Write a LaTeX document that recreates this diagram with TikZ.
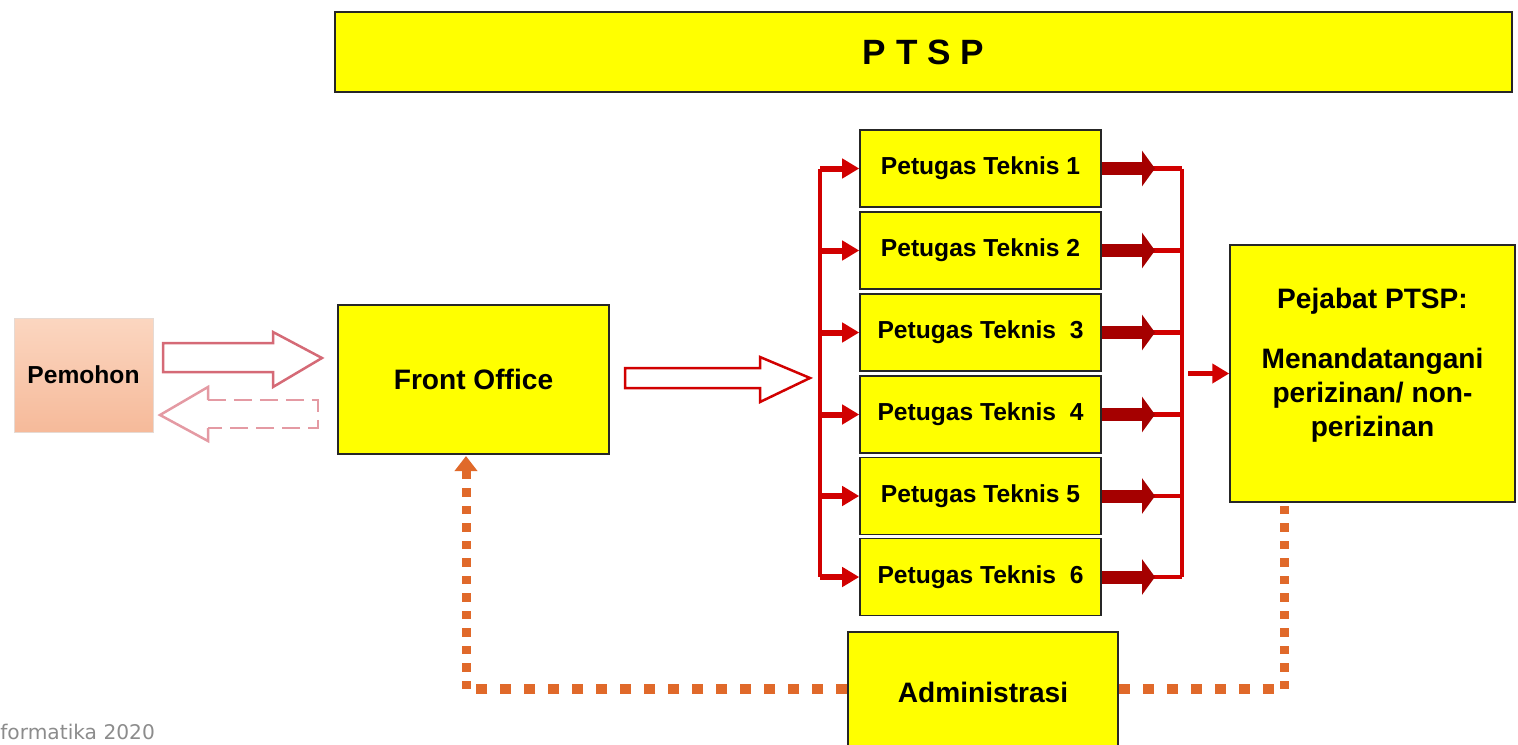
\documentclass[tikz,border=0pt]{standalone}
\usepackage{fontspec}
\setmainfont{Liberation Sans}
\newfontfamily\footfont{DejaVu Sans}
\usetikzlibrary{arrows.meta}

\definecolor{boxyellow}{HTML}{FFFF00}
\definecolor{branchred}{HTML}{D10000}
\definecolor{darkred}{HTML}{A50000}
\definecolor{dotorange}{HTML}{E0692A}
\definecolor{pinkline}{HTML}{D56A76}
\definecolor{pinkdash}{HTML}{E49AA3}
\definecolor{peachtop}{HTML}{FBD6C0}
\definecolor{peachbot}{HTML}{F6BA9A}

\tikzset{
  yellowbox/.style={draw=black!85, line width=0.9pt, fill=boxyellow, inner sep=0pt,
    font=\bfseries\fontsize{16}{19.4}\selectfont},
  tekbox/.style={yellowbox, minimum width=4.82cm, minimum height=1.54cm,
    font=\bfseries\fontsize{14}{16}\selectfont},
  branch/.style={draw=branchred, line width=0.12cm, -{Triangle[length=0.34cm,width=0.38cm]}},
  thickarr/.style={draw=darkred, line width=0.26cm, -{Triangle[length=0.26cm,width=0.7cm]},
    shorten >=0.54cm},
  busline/.style={draw=branchred, line width=0.09cm},
  dotline/.style={draw=dotorange, line width=0.19cm, dash pattern=on 0.22cm off 0.26cm},
  dotvert/.style={draw=dotorange, line width=0.18cm, dash pattern=on 0.17cm off 0.18cm},
}

\begin{document}
\begin{tikzpicture}[x=0.02cm, y=-0.02cm]
    \useasboundingbox (0,0) rectangle (1518,744);

    % banner and boxes
    \node[yellowbox, minimum width=23.54cm, minimum height=1.6cm,
      font=\bfseries\fontsize{20}{24}\selectfont] (ptsp) at (923.5,52) {P T S P};
    \node[draw=peachbot!70!black!30, line width=0.4pt, top color=peachtop, bottom color=peachbot,
      minimum width=2.78cm, minimum height=2.28cm, inner sep=0pt,
      font=\bfseries\fontsize{14}{16}\selectfont] (pem) at (83.5,375) {Pemohon};
    \node[yellowbox, minimum width=5.42cm, minimum height=2.98cm] (fo) at (473.5,379.5) {Front Office};

    \node[tekbox] (t1) at (980.5,168.5) {Petugas Teknis 1};
    \node[tekbox] (t2) at (980.5,250.5) {Petugas Teknis 2};
    \node[tekbox] (t3) at (980.5,332.5) {Petugas Teknis\ \ 3};
    \node[tekbox] (t4) at (980.5,414.5) {Petugas Teknis\ \ 4};
    \node[tekbox] (t5) at (980.5,496) {Petugas Teknis 5};
    \node[tekbox] (t6) at (980.5,577) {Petugas Teknis\ \ 6};

    \node[yellowbox, minimum width=5.7cm, minimum height=5.14cm] (pj) at (1372.5,373.5) {};
    \node[align=center, font=\bfseries\fontsize{16}{19.4}\selectfont] (pjtext) at (1372.5,365)
      {Pejabat PTSP:\\[0.52cm]Menandatangani\\perizinan/ non-\\perizinan};
    \node[yellowbox, minimum width=5.4cm, minimum height=2.4cm] (adm) at (983,692) {Administrasi};

    \node[anchor=base west, inner sep=0pt, text=black!45, font=\footfont\fontsize{11.5}{13}\selectfont]
      (foot) at (0,739) {formatika 2020};

    % block arrows Pemohon <-> Front Office
    \draw[draw=pinkline, line width=0.05cm, fill=white]
      (163,343) -- (273,343) -- (273,332) -- (322,358) -- (273,387) -- (273,372) -- (163,372) -- cycle;
    \draw[draw=pinkdash, line width=0.05cm]
      (208,400) -- (208,387) -- (160,415) -- (208,441) -- (208,428);
    \draw[draw=pinkdash, line width=0.05cm, dashed, dash pattern=on 0.36cm off 0.16cm]
      (208,400) -- (318,400) -- (318,428) -- (208,428);

    % block arrow Front Office -> Petugas
    \draw[draw=branchred, line width=0.05cm, fill=white]
      (625,368) -- (760,368) -- (760,357) -- (810,378) -- (760,402) -- (760,388) -- (625,388) -- cycle;

    % left bus
    \coordinate (lbtop) at (820,168.5);
    \coordinate (rbtop) at (1182,168.5);
    \draw[busline] (t1.west -| lbtop) -- (t6.west -| lbtop);
    \draw[branch] (t1.west -| lbtop) -- (t1.west);
    \draw[branch] (t2.west -| lbtop) -- (t2.west);
    \draw[branch] (t3.west -| lbtop) -- (t3.west);
    \draw[branch] (t4.west -| lbtop) -- (t4.west);
    \draw[branch] (t5.west -| lbtop) -- (t5.west);
    \draw[branch] (t6.west -| lbtop) -- (t6.west);

    % right bus
    \draw[busline] (t1.east -| rbtop) -- (t6.east -| rbtop);
    \draw[busline] (t1.east) -- (t1.east -| rbtop);
    \draw[busline] (t2.east) -- (t2.east -| rbtop);
    \draw[busline] (t3.east) -- (t3.east -| rbtop);
    \draw[busline] (t4.east) -- (t4.east -| rbtop);
    \draw[busline] (t5.east) -- (t5.east -| rbtop);
    \draw[busline] (t6.east) -- (t6.east -| rbtop);
    \draw[thickarr] (t1.east) -- (t1.east -| rbtop);
    \draw[thickarr] (t2.east) -- (t2.east -| rbtop);
    \draw[thickarr] (t3.east) -- (t3.east -| rbtop);
    \draw[thickarr] (t4.east) -- (t4.east -| rbtop);
    \draw[thickarr] (t5.east) -- (t5.east -| rbtop);
    \draw[thickarr] (t6.east) -- (t6.east -| rbtop);
    \draw[branch, line width=0.1cm, shorten <=0.12cm] (pj.west -| rbtop) -- (pj.west);

    % administrasi feedback
    \coordinate (fodot) at (466,456);
    \coordinate (pjdot) at (1284,503);
    \coordinate (lcorner) at (466,689);
    \coordinate (rcorner) at (1284,689);
    \draw[dotline] (adm.west |- lcorner) -- (lcorner);
    \draw[dotvert, -{Triangle[length=0.3cm,width=0.44cm]}] (lcorner) -- (fodot);
    \draw[dotline] (adm.east |- rcorner) -- (rcorner);
    \draw[dotvert] (rcorner) -- (pjdot);
\end{tikzpicture}
\end{document}
